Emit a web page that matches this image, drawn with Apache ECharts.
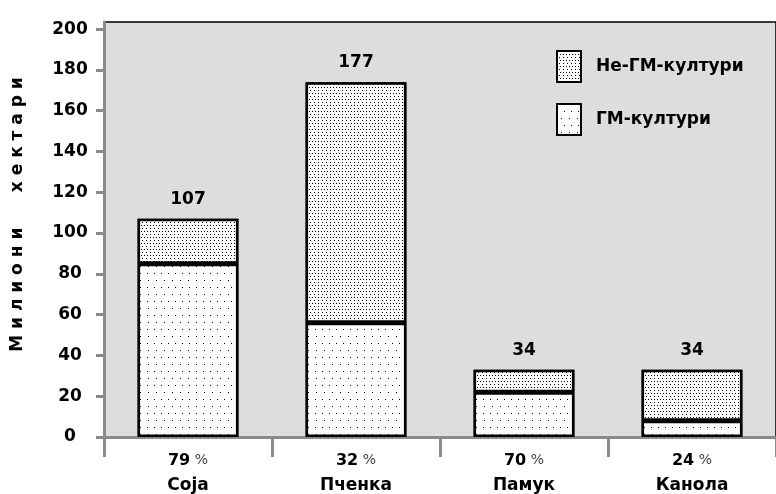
<!DOCTYPE html>
<html>
<head>
<meta charset="utf-8">
<style>
  html, body { margin: 0; padding: 0; background: #fff; }
  #chart { width: 776px; height: 494px; }
</style>
<script src="https://cdn.jsdelivr.net/npm/echarts@6/dist/echarts.min.js"></script>
</head>
<body>
<div id="chart"></div>
<script>
// culture names and GM share (% of total area)
var crops = ['Соја', 'Пченка', 'Памук', 'Канола']
var gmShare = ['79', '32', '70', '24']
var totals = [107, 177, 34, 34]
// million hectares, as drawn
var gmArea = [85, 56, 22, 8]
var nonGmArea = [22, 118, 11, 25]
var yTicks = [0, 20, 40, 60, 80, 100, 120, 140, 160, 180, 200]

var chart = echarts.init(document.getElementById('chart'))
var font = '"DejaVu Sans", Verdana, sans-serif'

var denseDots = {
  symbol: 'rect',
  symbolSize: 1,
  color: '#000',
  backgroundColor: '#fff',
  dashArrayX: [[1, 2], [0, 1.5, 1, 0.5]],
  dashArrayY: [1, 1.5]
}
var sparseDots = {
  symbol: 'rect',
  symbolSize: 1,
  color: '#000',
  backgroundColor: '#fff',
  dashArrayX: [[1, 6], [0, 3.5, 1, 2.5]],
  dashArrayY: [1, 5.5]
}

chart.setOption({
  animation: false,
  textStyle: { fontFamily: font },
  grid: {
    left: 104, right: -3, top: 22, bottom: 57,
    show: true,
    backgroundColor: '#dddddd',
    borderColor: '#000',
    borderWidth: 1.5
  },
  legend: {
    orient: 'vertical',
    left: 551, top: 45,
    icon: 'rect',
    itemWidth: 24, itemHeight: 31,
    itemGap: 20,
    data: ['Не-ГМ-култури', 'ГМ-култури'],
    textStyle: { fontSize: 17, fontWeight: 'bold', color: '#000', padding: [0, 0, 0, 10], fontFamily: font }
  },
  xAxis: {
    type: 'category',
    data: crops,
    axisLine: { lineStyle: { color: '#8a8a8a', width: 3 } },
    axisTick: { show: true, length: 20, lineStyle: { color: '#8a8a8a', width: 3 } },
    axisLabel: {
      margin: 11,
      formatter: function (v, i) {
        return '{p|' + gmShare[i] + '}{pc| %}\n{n|' + v + '}'
      },
      rich: {
        p: { fontSize: 16, fontWeight: 'bold', color: '#000', lineHeight: 25, fontFamily: font },
        pc: { fontSize: 14, color: '#444', lineHeight: 25, fontFamily: font },
        n: { fontSize: 17, fontWeight: 'bold', color: '#000', lineHeight: 25, fontFamily: font }
      }
    }
  },
  yAxis: {
    type: 'value',
    min: 0,
    max: 203.5,
    name: 'М и л и о н и      х е к т а р и',
    nameLocation: 'middle',
    nameGap: 78,
    nameTextStyle: { fontSize: 17, fontWeight: 'bold', color: '#000', padding: [0, 0, 0, 30] },
    splitLine: { show: false },
    axisLine: { show: true, lineStyle: { color: '#8a8a8a', width: 3 } },
    axisTick: { show: true, length: 8, customValues: yTicks, lineStyle: { color: '#8a8a8a', width: 3 } },
    axisLabel: { fontSize: 17, fontWeight: 'bold', color: '#000', margin: 34, align: 'center', customValues: yTicks }
  },
  series: [
    {
      name: 'ГМ-култури',
      type: 'bar',
      stack: 'area',
      barWidth: '60%',
      data: gmArea,
      itemStyle: { color: '#fff', borderColor: '#000', borderWidth: 2.5, decal: sparseDots }
    },
    {
      name: 'Не-ГМ-култури',
      type: 'bar',
      stack: 'area',
      data: nonGmArea,
      itemStyle: { color: '#fff', borderColor: '#000', borderWidth: 2.5, decal: denseDots },
      label: {
        show: true,
        position: 'top',
        distance: 11,
        fontSize: 17,
        fontWeight: 'bold',
        color: '#000',
        formatter: function (p) { return totals[p.dataIndex] }
      }
    }
  ]
})
</script>
</body>
</html>
